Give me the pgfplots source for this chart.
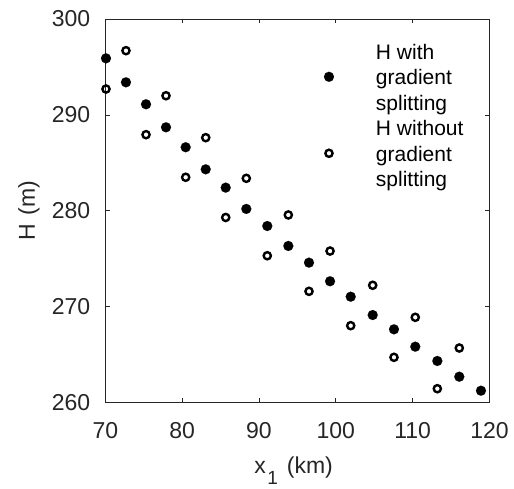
\documentclass[border=0pt]{standalone}
\usepackage{fontspec}
\setmainfont{Liberation Sans}
\usepackage{pgfplots}
\pgfplotsset{compat=1.18}
\definecolor{axgray}{gray}{0.15}
\pgfplotstableread{
x y
70.09 295.90
72.69 293.40
75.30 291.11
77.90 288.71
80.46 286.63
83.07 284.33
85.67 282.42
88.35 280.20
91.08 278.42
93.82 276.34
96.51 274.60
99.25 272.66
101.94 271.05
104.80 269.14
107.57 267.65
110.34 265.84
113.21 264.35
116.07 262.71
118.89 261.25
}\withsplit
\pgfplotstableread{
x y
70.09 292.70
72.69 296.70
75.30 287.94
77.90 292.00
80.46 283.50
83.07 287.63
85.67 279.31
88.35 283.39
91.08 275.32
93.82 279.57
96.51 271.61
99.25 275.81
101.94 268.03
104.80 272.24
107.57 264.73
110.34 268.90
113.21 261.46
116.07 265.70
}\withoutsplit
\begin{document}
\begin{tikzpicture}
\begin{axis}[
  scale only axis, width=384.2pt, height=383.7pt,
  at={(0pt,0pt)}, anchor=south west,
  xmin=70, xmax=120, ymin=260, ymax=300,
  xtick={70,80,...,120}, ytick={260,270,...,300},
  tick align=inside, major tick length=4.5pt,
  axis line style={axgray, line width=0.8pt},
  every tick/.style={axgray, line width=0.8pt},
  /pgf/number format/assume math mode=true,
  /pgf/number format/1000 sep={},
  tick label style={font=\fontsize{23}{27}\selectfont, text=axgray, inner sep=0pt, outer sep=0pt},
  xticklabel style={anchor=north, yshift=-19.8pt},
  yticklabel style={anchor=east, xshift=-15pt},
  label style={font=\fontsize{23}{27}\selectfont, text=axgray, inner sep=0pt, outer sep=0pt},
  xlabel={x\hspace{1.5pt}\raisebox{-11pt}{\fontsize{19}{20}\selectfont 1}\hspace{9pt}(km)},
  ylabel={H\hspace{9pt}(m)},
  xlabel style={at={(axis description cs:0.49,-0.1858)}, anchor=base},
  ylabel style={at={(axis description cs:-0.183,0.5)}, anchor=base},
  clip=false,
  legend image code/.code={\path[draw=none, fill=none] (-5pt,3pt) rectangle (47pt,13pt); \draw[#1] plot coordinates {(0pt,8pt)};},
  legend cell align=left,
  legend style={draw=none, fill=none, at={(0.5692,0.9415)}, anchor=north west,
    inner sep=0pt, outer sep=0pt, row sep=0pt, column sep=0pt,
    cells={anchor=base west},
    nodes={inner sep=0pt, outer sep=0pt, text height=17.85pt, text depth=7.65pt, font=\fontsize{21}{25.5}\selectfont, text=black}},
]
\addlegendimage{empty legend}
\addlegendentry{H with}
\addplot[only marks, mark=*, mark size=5pt, black, mark options={draw=black, fill=black, line width=0.1pt}] table[x=x, y=y] {\withsplit};
\addlegendentry{gradient}
\addlegendimage{empty legend}
\addlegendentry{splitting}
\addlegendimage{empty legend}
\addlegendentry{H without}
\addplot[only marks, mark=o, mark size=3.6pt, black, mark options={draw=black, line width=2.4pt, fill=white}] table[x=x, y=y] {\withoutsplit};
\addlegendentry{gradient}
\addlegendimage{empty legend}
\addlegendentry{splitting}
\end{axis}
\pgfresetboundingbox
\useasboundingbox (-105.3pt,-86.3pt) rectangle (408.7pt,402.7pt);
\end{tikzpicture}
\end{document}
